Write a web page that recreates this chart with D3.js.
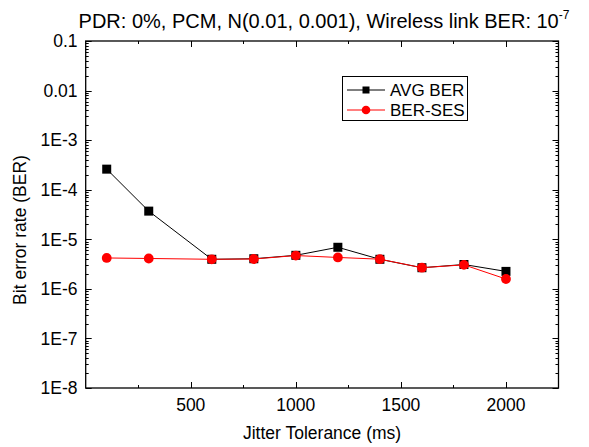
<!DOCTYPE html>
<html>
<head>
<meta charset="utf-8">
<script src="https://cdn.jsdelivr.net/npm/d3@7"></script>
<style>
  html, body { margin: 0; padding: 0; background: #fff; }
  svg { display: block; }
  text { font-family: "Liberation Sans", Arial, sans-serif; fill: #000; }
</style>
</head>
<body>
<svg id="chart" width="589" height="447"></svg>
<script>
// Jitter tolerance (ms) at which each BER was measured
const jitterMs = [100, 300, 600, 800, 1000, 1200, 1400, 1600, 1800, 2000];
// Average bit error rate
const avgBer = [2.6e-4, 3.7e-5, 3.95e-6, 4.05e-6, 4.75e-6, 6.9e-6, 3.95e-6, 2.67e-6, 3.1e-6, 2.25e-6];
// BER after selective error suppression
const berSes = [4.2e-6, 4.1e-6, 3.95e-6, 4.0e-6, 4.7e-6, 4.3e-6, 3.97e-6, 2.67e-6, 3.05e-6, 1.58e-6];
const xTicks = [500, 1000, 1500, 2000];
const yTickValues = [1e-1, 1e-2, 1e-3, 1e-4, 1e-5, 1e-6, 1e-7, 1e-8];
const yTickLabels = ["0.1", "0.01", "1E-3", "1E-4", "1E-5", "1E-6", "1E-7", "1E-8"];

const svg = d3.select("#chart");
const m = { left: 85.7, right: 558.5, top: 41, bottom: 388 };

const x = d3.scaleLinear().domain([0, 2250]).range([m.left, m.right]);
const y = d3.scaleLog().domain([1e-8, 1e-1]).range([m.bottom, m.top]);

const g = svg.append("g");

// Frame
g.append("rect")
  .attr("x", m.left).attr("y", m.top)
  .attr("width", m.right - m.left).attr("height", m.bottom - m.top)
  .attr("fill", "none").attr("stroke", "#000").attr("stroke-width", 1.3);

// X ticks (inward, bottom and top)
const xMinor = d3.range(250, 2250, 500);
function xTickLines(vals, len) {
  vals.forEach(v => {
    const px = Math.round(x(v)) + 0.5;
    g.append("line").attr("x1", px).attr("x2", px)
      .attr("y1", m.bottom).attr("y2", m.bottom - len).attr("stroke", "#000");
    g.append("line").attr("x1", px).attr("x2", px)
      .attr("y1", m.top).attr("y2", m.top + len).attr("stroke", "#000");
  });
}
xTickLines(xTicks, 6);
xTickLines(xMinor, 3);

g.selectAll(".xlab").data(xTicks).join("text")
  .attr("x", d => x(d)).attr("y", 411)
  .attr("text-anchor", "middle").attr("font-size", 17.5)
  .text(d => d);

// Y ticks (inward, left and right), decades + minor
const yMinor = [];
for (let e = -8; e < -1; e++) {
  for (let k = 2; k <= 9; k++) yMinor.push(k * Math.pow(10, e));
}
function yTickLines(vals, len) {
  vals.forEach(v => {
    const py = Math.round(y(v)) + 0.5;
    g.append("line").attr("x1", m.left).attr("x2", m.left + len)
      .attr("y1", py).attr("y2", py).attr("stroke", "#000");
    g.append("line").attr("x1", m.right).attr("x2", m.right - len)
      .attr("y1", py).attr("y2", py).attr("stroke", "#000");
  });
}
yTickLines(yTickValues, 6);
yTickLines(yMinor, 3);

g.selectAll(".ylab").data(yTickValues).join("text")
  .attr("x", 77.5).attr("y", d => y(d) + 6.3)
  .attr("text-anchor", "end").attr("font-size", 17.5)
  .text((d, i) => yTickLabels[i]);

// Axis titles
svg.append("text")
  .attr("transform", "translate(25.5,230) rotate(-90)")
  .attr("text-anchor", "middle").attr("font-size", 17.5)
  .text("Bit error rate (BER)");

svg.append("text")
  .attr("x", (m.left + m.right) / 2).attr("y", 439)
  .attr("text-anchor", "middle").attr("font-size", 17.5)
  .text("Jitter Tolerance (ms)");

// Title with superscript exponent
const title = svg.append("text")
  .attr("x", 324).attr("y", 28)
  .attr("text-anchor", "middle").attr("font-size", 20);
title.append("tspan").text("PDR: 0%, PCM, N(0.01, 0.001), Wireless link BER: 10");
title.append("tspan").attr("font-size", 12).attr("dy", -9).text("-7");

// Series
const line = d3.line().x(d => x(d[0])).y(d => y(d[1]));
const avgPts = jitterMs.map((t, i) => [t, avgBer[i]]);
const sesPts = jitterMs.map((t, i) => [t, berSes[i]]);

g.append("path").datum(avgPts).attr("d", line)
  .attr("fill", "none").attr("stroke", "#000").attr("stroke-width", 1);
g.selectAll(".sq").data(avgPts).join("rect")
  .attr("x", d => x(d[0]) - 4.5).attr("y", d => y(d[1]) - 4.5)
  .attr("width", 9).attr("height", 9).attr("fill", "#000");

g.append("path").datum(sesPts).attr("d", line)
  .attr("fill", "none").attr("stroke", "#ff0000").attr("stroke-width", 1);
g.selectAll(".ci").data(sesPts).join("circle")
  .attr("cx", d => x(d[0])).attr("cy", d => y(d[1]))
  .attr("r", 4.9).attr("fill", "#ff0000");

// Legend
const lg = svg.append("g");
lg.append("rect").attr("x", 342.5).attr("y", 76.5).attr("width", 125).attr("height", 44)
  .attr("fill", "#fff").attr("stroke", "#000").attr("stroke-width", 1);
const items = [
  { name: "AVG BER", color: "#000", shape: "square", yy: 90 },
  { name: "BER-SES", color: "#ff0000", shape: "circle", yy: 110 }
];
items.forEach(it => {
  lg.append("line").attr("x1", 347).attr("x2", 385).attr("y1", it.yy).attr("y2", it.yy)
    .attr("stroke", it.color).attr("stroke-width", 1);
  if (it.shape === "square") {
    lg.append("rect").attr("x", 366 - 3.5).attr("y", it.yy - 3.5).attr("width", 7).attr("height", 7).attr("fill", it.color);
  } else {
    lg.append("circle").attr("cx", 366).attr("cy", it.yy).attr("r", 4.3).attr("fill", it.color);
  }
  lg.append("text").attr("x", 390).attr("y", it.yy + 6).attr("font-size", 17).text(it.name);
});
</script>
</body>
</html>
